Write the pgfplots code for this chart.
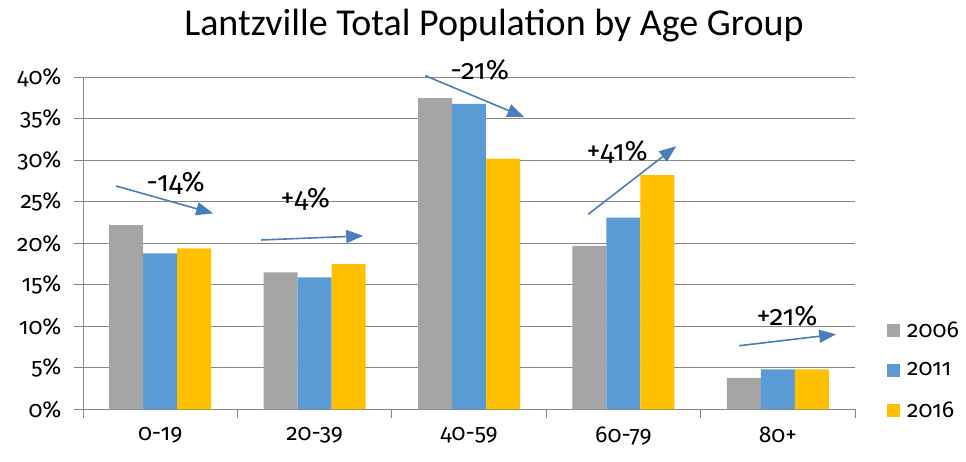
\documentclass[border=0pt]{standalone}
\usepackage{fontspec}
\setmainfont{Fira Sans}[Numbers=OldStyle]
\newfontfamily\titlefont{Carlito}
\usepackage{pgfplots}
\pgfplotsset{compat=1.18}
\usetikzlibrary{arrows.meta}
\definecolor{c06}{HTML}{A5A5A5}
\definecolor{c11}{HTML}{5B9BD5}
\definecolor{c16}{HTML}{FFC000}
\definecolor{gridc}{HTML}{888888}
\definecolor{arr}{HTML}{4A7EBB}
\newcommand{\fs}{\fontsize{23}{28}\selectfont}
\newcommand{\fa}{\fontsize{28}{32}\selectfont}
\pgfplotsset{sqleg/.style={legend image code/.code={\fill[##1] (0pt,-6.5pt) rectangle (13pt,6.5pt);}}}
\begin{document}
\begin{tikzpicture}
\path[use as bounding box] (-83pt,-51.7pt) rectangle (883pt,409.3pt);
\begin{axis}[
  at={(0,0)}, anchor=south west,
  scale only axis, width=772pt, height=332pt,
  ybar=0pt, bar width=34pt,
  xmin=-0.5, xmax=4.5, ymin=0, ymax=40,
  xtick={-0.5,0.5,1.5,2.5,3.5,4.5},
  xticklabels={0-19,20-39,40-59,60-79,80+},
  x tick label as interval,
  ytick={0,5,...,40},
  yticklabel={\pgfmathprintnumber{\tick}\%},
  /pgf/number format/assume math mode=true,
  axis lines*=left,
  axis line style={gridc, line width=0.9pt},
  tick style={gridc, line width=0.9pt},
  tick align=outside, major tick length=9pt,
  ymajorgrids, grid style={gridc, line width=0.9pt},
  xticklabel style={font=\fs, yshift=-5pt},
  yticklabel style={font=\fs, xshift=-9pt},
  clip=false,
  legend style={at={(1.0415,0.118)}, anchor=west, draw=none, fill=none,
    font=\fs, row sep=18pt, inner sep=0pt,
    nodes={inner sep=3pt}},
  legend cell align=left,
]
\addplot[fill=c06, draw=none, sqleg] coordinates {(0,22.2) (1,16.5) (2,37.5) (3,19.7) (4,3.8)};
\addplot[fill=c11, draw=none, sqleg] coordinates {(0,18.8) (1,15.9) (2,36.8) (3,23.1) (4,4.8)};
\addplot[fill=c16, draw=none, sqleg] coordinates {(0,19.4) (1,17.5) (2,30.2) (3,28.2) (4,4.8)};
\legend{\hspace*{4pt}2006,\hspace*{4pt}2011,\hspace*{4pt}2016}
\draw[arr, line width=1.6pt, -{Triangle[length=17pt,width=13pt]}] (axis cs:-0.285,26.9) -- (axis cs:0.343,23.6);
\draw[arr, line width=1.6pt, -{Triangle[length=17pt,width=13pt]}] (axis cs:0.654,20.4) -- (axis cs:1.315,20.9);
\draw[arr, line width=1.6pt, -{Triangle[length=17pt,width=13pt]}] (axis cs:1.716,40.2) -- (axis cs:2.358,35.2);
\draw[arr, line width=1.6pt, -{Triangle[length=17pt,width=13pt]}] (axis cs:2.772,23.5) -- (axis cs:3.342,31.7);
\draw[arr, line width=1.6pt, -{Triangle[length=17pt,width=13pt]}] (axis cs:3.75,7.66) -- (axis cs:4.378,9.04);
\node[font=\fa] at (axis cs:0.10,27.2) {-14\%};
\node[font=\fa] at (axis cs:0.94,25.3) {+4\%};
\node[font=\fa] at (axis cs:2.07,40.9) {-21\%};
\node[font=\fa] at (axis cs:2.96,31.0) {+41\%};
\node[font=\fa] at (axis cs:4.06,11.2) {+21\%};
\end{axis}
\node[font=\titlefont\fontsize{38}{44}\selectfont] at (411pt,384pt) {Lantzville Total Population by Age Group};
\end{tikzpicture}
\end{document}
